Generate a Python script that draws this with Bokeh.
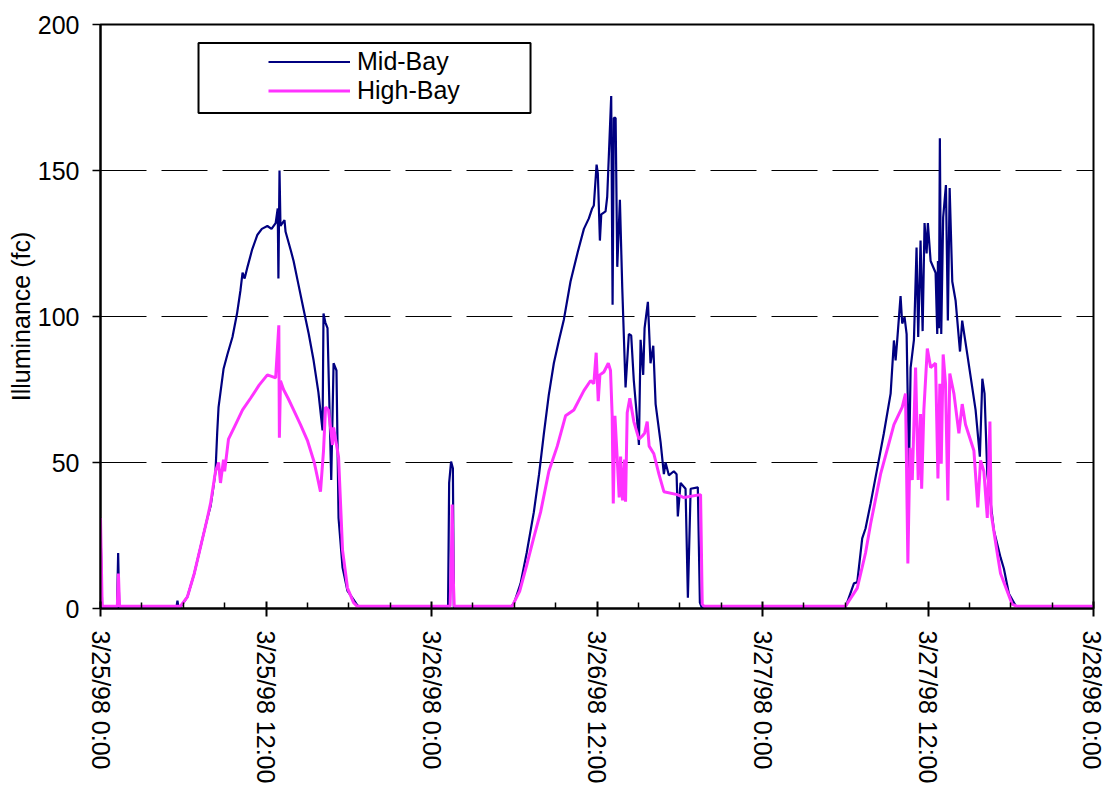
from bokeh.plotting import figure
from bokeh.models import Range1d, FixedTicker, Legend, LegendItem, BoxAnnotation
from bokeh.embed import file_html
from bokeh.resources import INLINE

# ---------------- data (hours since 3/25/98 0:00, illuminance in fc) ----------------
series_names = ["Mid-Bay", "High-Bay"]

mid_hours = [
    0.0, 0.12, 1.2, 1.28, 1.36, 5.5, 5.58, 5.66, 5.8, 6.3, 6.8, 7.3, 7.75, 7.98, 8.2, 8.34,
    8.46, 8.56, 8.92, 9.2, 9.57, 9.9, 10.15, 10.3, 10.45, 10.66, 11.0, 11.38, 11.7, 12.1, 12.4, 12.7,
    12.85, 12.9, 12.98, 13.05, 13.34, 13.42, 13.8, 14.0, 14.35, 14.7, 15.1, 15.45, 15.8, 16.1, 16.17, 16.3,
    16.46, 16.73, 16.9, 17.11, 17.26, 17.55, 17.91, 18.35, 18.64, 19.0,
    25.2, 25.28, 25.42, 25.55, 25.62, 29.73, 30.0, 30.46, 30.9, 31.42, 31.8, 32.15, 32.5, 32.87, 33.25, 33.6,
    34.08, 34.6, 35.05, 35.41, 35.65, 35.77, 35.97, 36.06, 36.21, 36.31, 36.62, 36.74,
    37.03, 37.13, 37.22, 37.35, 37.47, 37.66, 37.83, 38.07, 38.31, 38.48, 38.67, 38.87,
    39.04, 39.16, 39.35, 39.45, 39.69, 39.88, 40.08, 40.25, 40.61, 40.85, 40.97, 41.21,
    41.57, 41.77, 41.86, 42.06, 42.42, 42.59, 42.79, 43.31, 43.46, 43.6,
    54.02, 54.63, 54.87, 55.23, 55.47, 55.84, 56.32, 56.8, 57.29, 57.53, 57.65, 57.77,
    58.01, 58.13, 58.3, 58.45, 58.62, 58.74, 58.98, 59.17, 59.29, 59.46, 59.61, 59.75,
    59.9, 59.99, 60.19, 60.55, 60.67, 60.72, 60.79, 60.86, 60.96, 61.1, 61.3, 61.44,
    61.57, 61.76, 62.0, 62.32, 62.48, 62.85, 63.45, 63.76, 63.94, 64.1, 64.3, 64.78,
    65.26, 65.5, 65.87, 66.35, 66.6, 72.0,
]
mid_values = [
    28, 0.3, 0.3, 19, 0.3, 0.3, 2.7, 0.3, 0.5, 4, 12, 22, 31, 35, 42, 47,
    60, 69, 82, 87, 93, 101, 109, 115, 113, 117, 123, 128, 130, 131, 130, 132,
    137, 113, 150, 131, 133, 129, 122.6, 119, 111, 103, 94, 85, 74, 61, 101, 98,
    96, 44, 84, 81.5, 31, 14, 6, 3, 1, 0.3,
    0.3, 43, 50.3, 48, 0.5, 0.3, 2, 8.6, 19, 33, 46, 60, 73, 84, 92, 99,
    112, 122, 130, 133.6, 137, 138, 152, 149, 126, 135, 136, 141,
    175.5, 104, 168, 168, 117, 140, 110, 75.7, 94, 93.5, 78, 67,
    56, 92, 80, 96, 105, 84, 90, 70, 57, 46, 50, 45.6,
    47, 46, 31.5, 43, 41, 3.7, 41, 41.5, 2, 0.3,
    0.5, 8.6, 9, 24, 27.4, 36, 48, 60, 73.6, 91.8, 85, 92,
    107, 97.6, 99.8, 94, 47, 82.5, 92, 123.6, 93, 126, 95, 132,
    121.6, 132, 119, 115, 94, 119, 96, 161, 94, 134, 145, 98.6,
    144, 112, 105.5, 88, 98.6, 87, 68, 52, 78.7, 73.6, 46, 26.7,
    17.5, 13.7, 5, 1, 0.3, 0.3,
]

high_hours = [
    0.0, 0.12, 1.22, 1.3, 1.38, 5.8, 6.3, 6.8, 7.3, 7.75, 7.98, 8.34, 8.56, 8.7, 8.92, 9.0,
    9.28, 9.79, 10.3, 10.88, 11.5, 12.1, 12.7, 12.93, 12.97, 13.05, 13.27, 13.6, 14.0, 14.5, 15.0, 15.5, 15.95, 16.17,
    16.32, 16.53, 16.82, 16.9, 17.26, 17.55, 17.91, 18.35, 18.6,
    25.35, 25.45, 25.5, 25.58, 25.65, 29.85, 30.4, 30.94, 31.4, 31.91, 32.51, 33.12, 33.72,
    34.32, 35.05, 35.53, 35.77, 35.94, 36.09, 36.21, 36.5, 36.82, 36.98, 37.1, 37.18,
    37.3, 37.47, 37.61, 37.71, 37.85, 38.0, 38.07, 38.19, 38.38, 38.67, 39.04, 39.27,
    39.45, 39.64, 39.78, 40.12, 40.49, 40.85, 41.82, 42.3, 43.51, 43.63, 43.75,
    54.02, 54.87, 55.47, 55.84, 56.56, 57.16, 57.53, 58.13, 58.37, 58.54, 58.69, 58.86,
    59.1, 59.29, 59.46, 59.54, 59.7, 59.95, 60.19, 60.55, 60.72, 60.86, 60.96, 61.1,
    61.27, 61.44, 61.58, 61.88, 62.24, 62.48, 62.72, 63.33, 63.61, 63.81, 64.05, 64.3,
    64.49, 64.58, 65.02, 65.26, 66.1, 66.4, 72.0,
]
high_values = [
    31, 0.8, 0.8, 12, 0.8, 0.8, 4, 12, 22, 31, 36, 47, 50, 43, 51, 47,
    58, 63, 68, 72, 76.5, 80, 79, 97, 58.5, 78, 75, 72, 68, 63, 57.6, 50, 40, 54,
    69, 68, 56, 62, 52, 20, 7, 2, 0.8,
    0.8, 20, 35.6, 10, 0.8, 0.8, 6, 15.5, 24, 33, 47, 55.6, 66,
    68, 74.6, 78, 77, 87.6, 71, 80, 81, 84, 81.5, 66, 36,
    66, 51, 38, 52, 37, 51, 36.6, 67, 72, 64, 58, 59,
    60, 64, 55.6, 53, 46, 40, 39, 38, 39, 1.5, 0.8,
    0.8, 7, 19, 29, 46, 56.5, 63, 69, 73.6, 15.4, 55, 44,
    82.5, 44, 66.6, 41, 68, 89, 82.5, 84, 44.5, 77, 49.6, 87,
    77, 37, 80.5, 73.6, 60, 70, 63, 54, 34.6, 50.7, 47, 31,
    64, 32.5, 19, 12, 1.5, 0.8, 0.8,
]

x_tick_hours = [0, 12, 24, 36, 48, 60, 72]
x_tick_labels = ["3/25/98 0:00", "3/25/98 12:00", "3/26/98 0:00", "3/26/98 12:00",
                 "3/27/98 0:00", "3/27/98 12:00", "3/28/98 0:00"]
x_minor_hours = [3, 6, 9, 15, 18, 21, 27, 30, 33, 39, 42, 45, 51, 54, 57, 63, 66, 69]
y_ticks = [0, 50, 100, 150, 200]
y_grid = [50, 100, 150]
y_label = "Illuminance (fc)"

FONT = "Liberation Sans"

p = figure(width=1105, height=789, output_backend="svg", toolbar_location=None,
           x_range=Range1d(0, 72), y_range=Range1d(0, 200),
           min_border_left=100, min_border_right=12, min_border_top=24, min_border_bottom=181)
p.background_fill_color = "white"
p.border_fill_color = "white"
p.outline_line_color = "black"
p.outline_line_width = 2

r_mid = p.line(mid_hours, mid_values, line_color="#000080", line_width=2.2)
r_high = p.line(high_hours, high_values, line_color="#FF33FF", line_width=3)

# x axis
xa = p.xaxis[0]
xa.ticker = FixedTicker(ticks=x_tick_hours, minor_ticks=x_minor_hours)
xa.major_label_overrides = {h: lab for h, lab in zip(x_tick_hours, x_tick_labels)}
xa.major_label_orientation = "vertical"
xa.major_label_text_font = FONT
xa.major_label_text_font_size = "25px"
xa.major_label_text_color = "black"
xa.major_label_standoff = 14
xa.axis_line_width = 2
xa.axis_line_color = "black"
xa.major_tick_in = 7
xa.major_tick_out = 8
xa.major_tick_line_width = 2
xa.major_tick_line_color = "black"
xa.minor_tick_in = 6
xa.minor_tick_out = 0
xa.minor_tick_line_width = 1.5
xa.minor_tick_line_color = "black"

# y axis
ya = p.yaxis[0]
ya.ticker = FixedTicker(ticks=y_ticks, minor_ticks=[])
ya.major_label_text_font = FONT
ya.major_label_text_font_size = "25px"
ya.major_label_text_color = "black"
ya.major_label_standoff = 13
ya.axis_line_width = 2
ya.axis_line_color = "black"
ya.major_tick_in = 0
ya.major_tick_out = 8
ya.major_tick_line_width = 1.5
ya.major_tick_line_color = "black"
ya.minor_tick_line_color = None
ya.axis_label = y_label
ya.axis_label_text_font = FONT
ya.axis_label_text_font_size = "25px"
ya.axis_label_text_font_style = "normal"
ya.axis_label_text_color = "black"
ya.axis_label_standoff = 0

# grid
p.xgrid.visible = False
p.ygrid.ticker = FixedTicker(ticks=y_grid)
p.ygrid.grid_line_color = "black"
p.ygrid.grid_line_width = 1
p.ygrid.grid_line_dash = "46 15"

# legend box + legend
box = BoxAnnotation(left=7.107, right=31.18, bottom=169.7, top=193.7,
                    fill_color="white", fill_alpha=1.0, line_color="black", line_alpha=1.0,
                    line_width=2)
p.add_layout(box)

legend = Legend(items=[LegendItem(label=series_names[0], renderers=[r_mid]),
                       LegendItem(label=series_names[1], renderers=[r_high])],
                location=(168, 503), padding=0, margin=0, spacing=0,
                glyph_width=82, glyph_height=29, label_height=29, label_standoff=7,
                label_text_font=FONT, label_text_font_size="25px", label_text_color="black",
                border_line_alpha=0, background_fill_alpha=0)
p.add_layout(legend)

open("out.html", "w").write(file_html(p, INLINE))
